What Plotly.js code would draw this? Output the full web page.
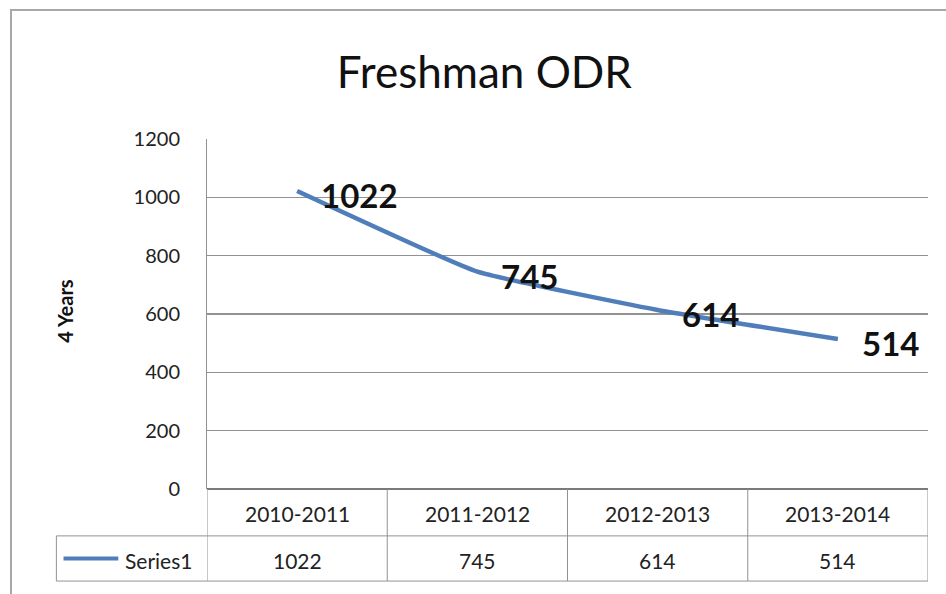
<!DOCTYPE html>
<html>
<head>
<meta charset="utf-8">
<script src="https://cdn.plot.ly/plotly-3.0.1.min.js"></script>
<style>
html,body{margin:0;padding:0;background:#fff;overflow:hidden;}
#wrap{position:relative;width:946px;height:594px;overflow:hidden;}
#chart{width:946px;height:594px;}
#frame{position:absolute;left:10px;top:9px;width:1000px;height:700px;border-left:2px solid #A8A8A8;border-top:2px solid #A8A8A8;pointer-events:none;}
</style>
</head>
<body>
<div id="wrap"><div id="chart"></div><div id="frame"></div></div>
<script>
const categories = ['2010-2011', '2011-2012', '2012-2013', '2013-2014'];
const seriesName = 'Series1';
const values = [1022, 745, 614, 514];
const yTicks = [0, 200, 400, 600, 800, 1000, 1200];

const FONT = 'Lato, "Open Sans", sans-serif';
const LINE = '#4F7EBA';
const GRID = '#929292';

// table row geometry (paper units, relative to plot area)
const hdrMid = -0.0686, divY = -0.134, rowMid = -0.205, botY = -0.263, tblLeft = -0.2089;

const shapes = [];
const annotations = [];
// table vertical lines at category boundaries
for (let i = 0; i <= categories.length; i++) {
  shapes.push({type:'line', xref:'x', yref:'paper', x0:i-0.5, x1:i-0.5, y0:0, y1:botY,
    line:{color:GRID, width:1}});
}
// series row left edge
shapes.push({type:'line', xref:'paper', yref:'paper', x0:tblLeft, x1:tblLeft, y0:divY, y1:botY, line:{color:GRID, width:1}});
// horizontal lines
shapes.push({type:'line', xref:'paper', yref:'paper', x0:tblLeft, x1:1, y0:divY, y1:divY, line:{color:GRID, width:1}});
shapes.push({type:'line', xref:'paper', yref:'paper', x0:tblLeft, x1:1, y0:botY, y1:botY, line:{color:GRID, width:1}});
// legend key
shapes.push({type:'line', xref:'paper', yref:'paper', x0:-0.199, x1:-0.123, y0:-0.1986, y1:-0.1986, line:{color:LINE, width:4}});

categories.forEach((c, i) => {
  annotations.push({xref:'x', yref:'paper', x:c, y:hdrMid, yanchor:'middle', text:c, showarrow:false,
    font:{family:FONT, size:21, color:'#222'}});
  annotations.push({xref:'x', yref:'paper', x:c, y:rowMid, yanchor:'middle', text:String(values[i]), showarrow:false,
    font:{family:FONT, size:21, color:'#222'}});
  // data labels
  annotations.push({xref:'x', yref:'y', x:c, y:values[i], xanchor:'left', yanchor:'middle', xshift:22, yshift:-4,
    text:'<b>' + values[i] + '</b>', showarrow:false,
    font:{family:FONT, size:33, color:'#111'}});
});
annotations.push({xref:'paper', yref:'paper', x:-0.116, y:rowMid, xanchor:'left', yanchor:'middle', text:seriesName, showarrow:false,
  font:{family:FONT, size:21, color:'#222'}});
// y-axis title
annotations.push({xref:'paper', yref:'paper', x:-0.198, y:0.51, xanchor:'center', yanchor:'middle', text:'<b>4 Years</b>', textangle:-90, showarrow:false,
  font:{family:FONT, size:20, color:'#111'}});

const trace = {
  type:'scatter', mode:'lines', x:categories, y:values, name:seriesName,
  line:{color:LINE, width:4.5, shape:'spline', smoothing:0.35},
  cliponaxis:false, hoverinfo:'skip'
};

const layout = {
  width:946, height:594,
  margin:{l:207, r:18, t:139, b:105},
  paper_bgcolor:'#fff', plot_bgcolor:'#fff',
  showlegend:false,
  title:{text:'Freshman ODR', x:0.512, xanchor:'center', y:0.878, yanchor:'middle',
    font:{family:FONT, size:44, color:'#111'}},
  xaxis:{type:'category', range:[-0.5, 3.5], showticklabels:false, showgrid:false, zeroline:false,
    showline:false, fixedrange:true},
  yaxis:{range:[0,1200], tickvals:yTicks, ticktext:yTicks.map(String), showgrid:true, gridcolor:GRID, gridwidth:1.3,
    zeroline:true, zerolinecolor:'#7a7a7a', zerolinewidth:1.5,
    showline:true, linecolor:GRID, linewidth:1, ticks:'', ticklabelstandoff:22,
    tickfont:{family:FONT, size:20, color:'#222'}, fixedrange:true, automargin:false},
  shapes:shapes, annotations:annotations
};

Plotly.newPlot('chart', [trace], layout, {displayModeBar:false, staticPlot:true});
</script>
</body>
</html>
